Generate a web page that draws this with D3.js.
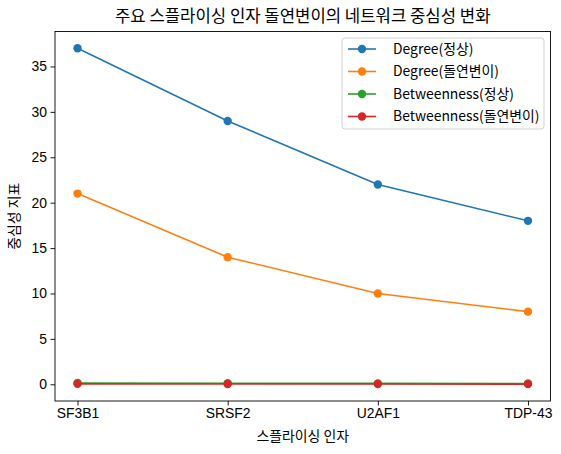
<!DOCTYPE html>
<html>
<head>
<meta charset="utf-8">
<script src="https://cdn.jsdelivr.net/npm/d3@7"></script>
<style>
body { margin: 0; background: #fff; }
svg { font-family: "Noto Sans CJK KR", "Noto Sans", sans-serif; }
.axis text { font-size: 13.9px; fill: #000; }
.axis path, .axis line { stroke: #000; stroke-width: 0.9; }
</style>
</head>
<body>
<svg width="561" height="454"></svg>
<script>
"use strict"

var factors = ["SF3B1", "SRSF2", "U2AF1", "TDP-43"];
var degreeNormal = [37, 29, 22, 18];
var degreeMutant = [21, 14, 10, 8];
var betweenNormal = [0.15, 0.12, 0.10, 0.08];
var betweenMutant = [0.05, 0.03, 0.03, 0.02];
var seriesNames = ["Degree(정상)", "Degree(돌연변이)", "Betweenness(정상)", "Betweenness(돌연변이)"];
var seriesColors = ["#1f77b4", "#ff7f0e", "#2ca02c", "#d62728"];
var yTicks = [0, 5, 10, 15, 20, 25, 30, 35];

var series = [degreeNormal, degreeMutant, betweenNormal, betweenMutant].map(function(v, i) {
	return { name: seriesNames[i], color: seriesColors[i], values: v };
});

var plotLeft = 55, plotRight = 550.5, plotTop = 31.5, plotBottom = 401;
var svg = d3.select("svg");

var x = d3.scaleLinear().domain([-0.15, 3.15]).range([plotLeft, plotRight]);
var y = d3.scaleLinear().domain([-1.84, 38.85]).range([plotBottom, plotTop]);

svg.append("g")
   .attr("class", "axis")
   .attr("transform", "translate(0," + plotBottom + ")")
   .call(d3.axisBottom(x).tickValues([0, 1, 2, 3])
        .tickFormat(function(d){ return factors[d]; })
        .tickSizeOuter(0).tickSize(4.5).tickPadding(3));

svg.append("g")
   .attr("class", "axis")
   .attr("transform", "translate(" + plotLeft + ",0)")
   .call(d3.axisLeft(y).tickValues(yTicks).tickSizeOuter(0).tickSize(4.5).tickPadding(3.5));

svg.selectAll(".axis .domain").remove();
svg.append("rect")
   .attr("x", plotLeft).attr("y", plotTop)
   .attr("width", plotRight - plotLeft).attr("height", plotBottom - plotTop)
   .attr("fill", "none").attr("stroke", "#000").attr("stroke-width", 0.9);

var line = d3.line()
	.x(function(d, i){ return x(i); })
	.y(function(d){ return y(d); });

var g = svg.append("g");
series.forEach(function(s) {
	g.append("path")
	 .attr("d", line(s.values))
	 .attr("fill", "none")
	 .attr("stroke", s.color)
	 .attr("stroke-width", 1.6);
	g.selectAll(null)
	 .data(s.values)
	 .enter()
	 .append("circle")
	 .attr("cx", function(d, i){ return x(i); })
	 .attr("cy", function(d){ return y(d); })
	 .attr("r", 4.2)
	 .attr("fill", s.color);
});

// title and axis labels
svg.append("text")
   .attr("x", (plotLeft + plotRight) / 2).attr("y", 22)
   .attr("text-anchor", "middle")
   .style("font-size", "16.7px")
   .text("주요 스플라이싱 인자 돌연변이의 네트워크 중심성 변화");

svg.append("text")
   .attr("x", (plotLeft + plotRight) / 2).attr("y", 441)
   .attr("text-anchor", "middle")
   .style("font-size", "13.9px")
   .text("스플라이싱 인자");

svg.append("text")
   .attr("transform", "translate(19," + ((plotTop + plotBottom) / 2) + ") rotate(-90)")
   .attr("text-anchor", "middle")
   .style("font-size", "13.9px")
   .text("중심성 지표");

// legend
var lg = svg.append("g").attr("transform", "translate(342,38)");
lg.append("rect")
  .attr("width", 202).attr("height", 91)
  .attr("rx", 3)
  .attr("fill", "#fff").attr("stroke", "#ccc").attr("stroke-width", 0.9);
var item = lg.selectAll(".item")
  .data(series)
  .enter()
  .append("g")
  .attr("transform", function(d, i){ return "translate(0," + (11 + i * 22.5) + ")"; });
item.append("line")
  .attr("x1", 6).attr("x2", 34)
  .attr("stroke", function(d){ return d.color; })
  .attr("stroke-width", 1.6);
item.append("circle")
  .attr("cx", 20).attr("r", 4.2)
  .attr("fill", function(d){ return d.color; });
item.append("text")
  .attr("x", 51).attr("dy", "0.35em")
  .style("font-size", "13.9px")
  .text(function(d){ return d.name; });
</script>
</body>
</html>
